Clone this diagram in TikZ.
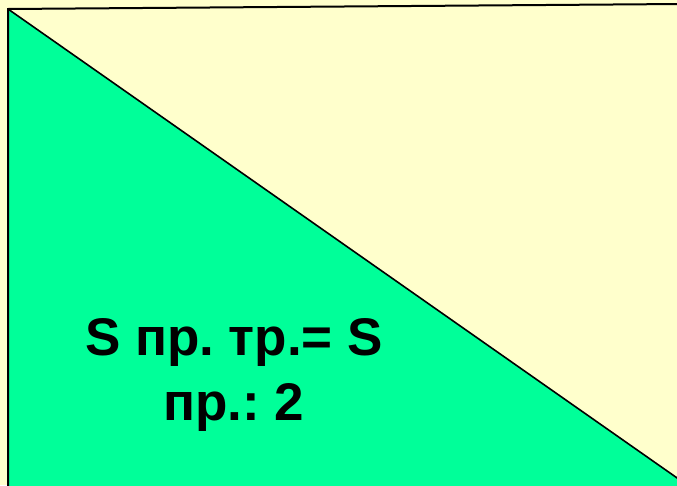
\documentclass[tikz,border=0pt]{standalone}
\usepackage{fontspec}
\setmainfont{Liberation Sans}
\definecolor{bgyellow}{HTML}{FFFFCC}
\definecolor{tgreen}{HTML}{00FF99}
\begin{document}
\frenchspacing
\begin{tikzpicture}[x=1pt,y=-1pt,
  edge/.style={draw=black,line width=2pt},
  label/.style={font=\bfseries\fontsize{53}{65}\selectfont,align=center,text=black}]
\useasboundingbox (0,0) rectangle (677,485);
\fill[bgyellow] (0,0) rectangle (677,485);
\coordinate (tl) at (8,9);
\coordinate (tr) at (680,4);
\coordinate (dr) at (680,480);
\coordinate (bl) at (8,490);
\fill[tgreen] (tl) -- (dr) -- (680,490) -- (bl) -- cycle;
\draw[edge] (bl) -- (tl) -- (tr);
\draw[edge,line width=1.6pt] (tl) -- (dr);
\node[label,anchor=base] (t1) at (234,355) {\frenchspacing S пр. тр.= S};
\node[label,anchor=base] (t2) at (234,420) {\frenchspacing пр.: 2};
\end{tikzpicture}
\end{document}
